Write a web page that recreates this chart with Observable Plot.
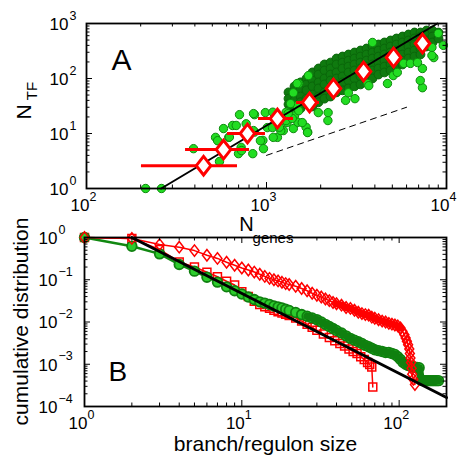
<!DOCTYPE html>
<html><head><meta charset="utf-8">
<script src="https://cdn.jsdelivr.net/npm/d3@7"></script>
<script src="https://cdn.jsdelivr.net/npm/@observablehq/plot@0.6"></script>
<style>
html,body{margin:0;padding:0;background:#fff;}
#chart{width:458px;height:464px;position:relative;}
#chart svg{position:absolute;left:0;overflow:visible;background:transparent;}
</style></head><body><div id="chart"></div>
<script>
// ---------- Panel A data ----------
const aXTicks = [100, 1000, 10000];
const aXExp = ["2", "3", "4"];
const aYTicks = [1, 10, 100, 1000];
const aYExp = ["0", "1", "2", "3"];
const aXMinor = [200,300,400,500,600,700,800,900,2000,3000,4000,5000,6000,7000,8000,9000];
const aYMinor = [2,3,4,5,6,7,8,9,20,30,40,50,60,70,80,90,200,300,400,500,600,700,800,900];

// dense part of the genome cloud [N_genes, N_TF]
const cloudCore = [
[1325,56],[1325,43],[1325,34],[1325,26],
[1431,72],[1431,51],[1431,40],[1431,31],
[1546,85],[1546,66],[1546,47],[1546,37],[1546,28.5],
[1668,100],[1668,78],[1668,61],[1668,43],[1668,34],
[1801,129],[1801,92],[1801,72],[1801,51],[1801,40],[1801,31],
[1945,152],[1945,118],[1945,85],[1945,66],[1945,47],[1945,37],
[2100,180],[2100,140],[2100,100],[2100,78],[2100,56],[2100,43],
[2268,195],[2268,152],[2268,118],[2268,92],[2268,66],[2268,47],
[2449,231],[2449,180],[2449,129],[2449,100],[2449,78],[2449,56],
[2644,251],[2644,195],[2644,152],[2644,109],[2644,85],[2644,61],
[2855,273],[2855,212],[2855,165],[2855,129],[2855,92],[2855,66],
[3083,297],[3083,231],[3083,180],[3083,140],[3083,100],[3083,72],
[3329,323],[3329,251],[3329,195],[3329,152],[3329,109],[3329,78],
[3594,351],[3594,273],[3594,212],[3594,165],[3594,118],[3594,92],
[3881,382],[3881,297],[3881,231],[3881,180],[3881,140],[3881,100],
[4190,415],[4190,323],[4190,251],[4190,195],[4190,152],[4190,118],
[4525,452],[4525,351],[4525,273],[4525,212],[4525,165],[4525,129],
[4886,491],[4886,382],[4886,297],[4886,231],[4886,180],[4886,140],
[5275,534],[5275,415],[5275,323],[5275,251],[5275,195],[5275,165],
[5696,580],[5696,452],[5696,351],[5696,273],[5696,212],[5696,180],
[6150,631],[6150,491],[6150,382],[6150,297],[6150,231],
[6641,686],[6641,534],[6641,415],[6641,323],[6641,251],
[7170,686],[7170,580],[7170,452],[7170,351],[7170,273],
[7742,746],[7742,631],[7742,491],[7742,382],
[8359,746],[8359,580],[8359,452],
[9026,686],[9026,534]
];
// scattered genomes [N_genes, N_TF]
const cloudSparse = [
[213,1],[261,1],[393,5.3],[548,3.1],[521,8.5],[535,7.4],[577,12.3],[617,8.5],[622,8.6],
[708,22],[858,22],[648,14],[679,14],[771,15],[858,10.6],[955,7.5],[699,4.3],[723,5.6],[727,4.9],[839,4.3],
[962,5.3],[847,11.3],[925,7.4],[1010,12.8],[1080,12.8],[1150,8.5],[1240,11.3],[1300,15.8],
[1410,12.3],[1480,32],[1360,35],[1410,55],[847,23],[985,24],[1090,8.5],[1200,11.3],[1180,13],
[1084,24.4],[1286,24.4],[1286,17.2],[1431,21],[1494,16],[1660,13],[1694,10.6],[2193,17.2],
[1690,10.4],[1580,15.8],[1390,18.8],[1320,23],[1510,26],[1510,81],
[2200,24],[1940,24],[2750,40],[1710,113],[3880,452],
[4700,81],[5060,113],[5780,188],[6300,188],[7350,68],[7150,92],[7350,152],
[8500,240],[8300,367],[9000,660],[9600,400],[3100,43],[3640,81],
[1480,81],[6900,195],[3700,74],[5330,129],[8300,262],[2850,55]
];
// binned averages with horizontal spread
const binGenes = [447, 577, 784, 1150, 1734, 2355, 3460, 5080, 7360];
const binTF = [2.6, 5.1, 10, 18.7, 36.6, 65.8, 134, 241, 433];
const binLo = [202, 355, 607, 903, 1468, 2160, 3220, 4780, 6980];
const binHi = [690, 805, 987, 1413, 1969, 2570, 3720, 5400, 7760];
// fitted power law and reference slope
const fitGenes = [260, 8900];
const fitTF = [1, 1000];
const refGenes = [1000, 6000];
const refTF = [4, 30];

// ---------- Panel B data ----------
const bXTicks = [1, 10, 100];
const bXExp = ["0", "1", "2"];
const bYTicks = [1e-4, 1e-3, 1e-2, 1e-1, 1];
const bYExp = ["\u22124", "\u22123", "\u22122", "\u22121", "0"];
const bXMinor = [2,3,4,5,6,7,8,9,20,30,40,50,60,70,80,90,200];
const bYMinor = [2e-4,3e-4,4e-4,5e-4,6e-4,7e-4,8e-4,9e-4,2e-3,3e-3,4e-3,5e-3,6e-3,7e-3,8e-3,9e-3,
  0.02,0.03,0.04,0.05,0.06,0.07,0.08,0.09,0.2,0.3,0.4,0.5,0.6,0.7,0.8,0.9];

const branchCD = [
[1,1],[2,0.62],[3,0.41],[4,0.23],[5,0.16],[6,0.115],[7,0.088],[8,0.068],[9,0.055],[10,0.046],
[11,0.039],[12,0.034],[13,0.030],[14,0.028],[15,0.026],[16,0.024],[17,0.0228],[18,0.0215],[19,0.020],
[20,0.0188],[22,0.0168],[24,0.0150],[26,0.0137],[28,0.0125],[30,0.0114],[32,0.0100],[34,0.0088],
[36,0.0078],[38,0.0070],[40,0.0063],[43,0.0055],[46,0.0047],[49,0.0041],[52,0.0037],[55,0.0034],
[58,0.0031],[61,0.0028],[64,0.0026],[67,0.0024],[70,0.0022],[74,0.0021],[78,0.0020],[82,0.0019],
[86,0.0019],[90,0.0018],[94,0.0017],[98,0.0015],[102,0.0013],[106,0.0011],[110,0.0010],[114,0.00094],
[118,0.00090],[122,0.00087],[126,0.00085],[130,0.00084],[134,0.00083],[138,0.00042],[142,0.00041],
[146,0.00041],[150,0.00041],[154,0.00041],[158,0.00041],[162,0.00041],[166,0.00041],[170,0.00041],
[174,0.00041],[178,0.00041]
];
const regulonCD = [
[1,1],[2,0.95],[3,0.68],[4,0.59],[5,0.49],[6,0.38],[7,0.32],[8,0.26],[9,0.22],[10,0.19],
[11,0.17],[12,0.152],[13,0.135],[14,0.120],[15,0.108],[16,0.100],[17,0.094],[18,0.087],[19,0.081],
[20,0.077],[22,0.070],[24,0.062],[26,0.055],[28,0.048],[30,0.043],[32,0.039],[34,0.035],[36,0.032],
[38,0.029],[40,0.027],[43,0.025],[46,0.022],[49,0.021],[52,0.019],[55,0.017],[58,0.0158],[61,0.015],
[64,0.0145],[67,0.013],[70,0.0123],[74,0.0113],[78,0.0105],[82,0.0100],[86,0.0093],[90,0.0089],
[94,0.0085],[98,0.0081],[102,0.0072],[105,0.0060],[108,0.0050],[110,0.0042],[112,0.0035],[114,0.0029],
[116,0.0023],[117,0.0018],[118,0.0014],[119,0.0011],[120,0.0008],[121,0.00058],[123,0.00044],[126,0.00033]
];
const shuffledCD = [
[1,1],[2,0.95],[3,0.52],[4,0.265],[5,0.20],[6,0.15],[7,0.118],[8,0.092],[9,0.075],[10,0.052],
[11,0.040],[12,0.031],[13,0.026],[14,0.023],[15,0.021],[16,0.019],[17,0.0175],[18,0.0163],[19,0.0152],
[20,0.0142],[22,0.0125],[24,0.0105],[26,0.0088],[28,0.0075],[30,0.0064],[33,0.0052],[36,0.0043],
[39,0.0036],[42,0.0031],[45,0.0027],[48,0.0023],[51,0.0020],[54,0.0018],[57,0.0015],[60,0.0013],
[63,0.0011],[65,0.00098],[67,0.00086],[68,0.00029]
];
const lawX = [2, 200];
const lawY = [1, 0.000163];

// ---------- helpers ----------
const FONT = "Liberation Sans, Arial, Helvetica, sans-serif";
const diamond = {draw(ctx, size) {
  const h = Math.sqrt(size) * 0.62, w = h * 0.78;
  ctx.moveTo(0, -h); ctx.lineTo(w, 0); ctx.lineTo(0, h); ctx.lineTo(-w, 0); ctx.closePath();
}};
function boxTicks(xMaj, xMin, yMaj, yMin, pw, ph) {
  const o = {stroke: "black", strokeWidth: 1};
  const m = [];
  for (const [arr, len] of [[xMaj, 6], [xMin, 3.5]]) {
    m.push(Plot.tickX(arr, {x: d => d, insetTop: ph - len, ...o}));
    m.push(Plot.tickX(arr, {x: d => d, insetBottom: ph - len, ...o}));
  }
  for (const [arr, len] of [[yMaj, 6], [yMin, 3.5]]) {
    m.push(Plot.tickY(arr, {y: d => d, insetRight: pw - len, ...o}));
    m.push(Plot.tickY(arr, {y: d => d, insetLeft: pw - len, ...o}));
  }
  return m;
}
function logLabels(xT, xE, yT, yE, yDx) {
  return [
    Plot.text(xT, {x: d => d, frameAnchor: "bottom", text: () => "10", textAnchor: "end", dx: 3, dy: 22, fontSize: 17, fill: "black"}),
    Plot.text(xT, {x: d => d, frameAnchor: "bottom", text: (d, i) => xE[i], textAnchor: "start", dx: 3, dy: 12, fontSize: 12.5, fill: "black"}),
    Plot.text(yT, {y: d => d, frameAnchor: "left", text: () => "10", textAnchor: "end", dx: yDx, dy: 1, fontSize: 17, fill: "black"}),
    Plot.text(yT, {y: d => d, frameAnchor: "left", text: (d, i) => yE[i], textAnchor: "start", dx: yDx + 1, dy: -8, fontSize: 12.5, fill: "black"})
  ];
}
function vLabel(svg, parts) {
  // rotated (bottom-to-top) axis title, built as real SVG text
  for (const p of parts) {
    d3.select(svg).append("text")
      .attr("transform", `translate(${p.cx},${p.cy}) rotate(-90)`)
      .attr("text-anchor", "middle").attr("dy", "0.36em")
      .attr("font-family", FONT).attr("font-size", p.size).attr("fill", "black")
      .text(p.text);
  }
}

const bins = binGenes.map((g, i) => ({g, tf: binTF[i], lo: binLo[i], hi: binHi[i]}));
const fitLine = fitGenes.map((g, i) => ({g, tf: fitTF[i]}));
const refLine = refGenes.map((g, i) => ({g, tf: refTF[i]}));
const lawLine = lawX.map((x, i) => ({x, y: lawY[i]}));

// ---------- Panel A ----------
const plotA = Plot.plot({
  width: 458, height: 232,
  marginLeft: 86, marginRight: 12, marginTop: 23, marginBottom: 44,
  style: {fontFamily: FONT, background: "transparent", overflow: "visible"},
  x: {type: "log", domain: [100, 10000], axis: null},
  y: {type: "log", domain: [1, 1000], axis: null},
  marks: [
    Plot.dot(cloudCore, {x: d => d[0], y: d => d[1], r: 4.4, fill: "#0f7a0f", stroke: "#0a660a", strokeWidth: 1}),
    Plot.dot(cloudSparse, {x: d => d[0], y: d => d[1], r: 4.2, fill: "#22dd22", stroke: "#0d8a0d", strokeWidth: 1}),
    Plot.line(fitLine, {x: "g", y: "tf", stroke: "black", strokeWidth: 2}),
    Plot.line(refLine, {x: "g", y: "tf", stroke: "black", strokeWidth: 1, strokeDasharray: "6,5"}),
    Plot.ruleY(bins, {y: "tf", x1: "lo", x2: "hi", stroke: "#ff0000", strokeWidth: 3}),
    Plot.dot(bins, {x: "g", y: "tf", symbol: diamond, r: 8.5, fill: "white", stroke: "#ff0000", strokeWidth: 3}),
    Plot.frame({stroke: "black", strokeWidth: 1.8}),
    ...boxTicks(aXTicks, aXMinor, aYTicks, aYMinor, 360, 165),
    ...logLabels(aXTicks, aXExp, aYTicks, aYExp, -18),
    Plot.text(["A"], {frameAnchor: "top-left", dx: 25, dy: 25, fontSize: 30, fill: "black"}),
    Plot.text(["N"], {frameAnchor: "bottom", dx: -20, dy: 42, fontSize: 20, fill: "black"}),
    Plot.text(["genes"], {frameAnchor: "bottom", dx: 6.5, dy: 54.5, fontSize: 15, fill: "black"})
  ]
});
vLabel(plotA, [{text: "N", cx: 23, cy: 112, size: 21}, {text: "TF", cx: 32, cy: 91, size: 15}]);

// ---------- Panel B ----------
const plotB = Plot.plot({
  width: 458, height: 232,
  marginLeft: 84, marginRight: 12, marginTop: 5, marginBottom: 58,
  style: {fontFamily: FONT, background: "transparent", overflow: "visible"},
  x: {type: "log", domain: [1, 200], axis: null},
  y: {type: "log", domain: [1e-4, 1], axis: null},
  marks: [
    Plot.line(shuffledCD, {x: d => d[0], y: d => d[1], stroke: "#ff0000", strokeWidth: 1.5}),
    Plot.dot(shuffledCD, {x: d => d[0], y: d => d[1], symbol: "square", r: 4.5, fill: "none", stroke: "#ff0000", strokeWidth: 1.5}),
    Plot.line(branchCD, {x: d => d[0], y: d => d[1], stroke: "#118811", strokeWidth: 2.5}),
    Plot.dot(branchCD, {x: d => d[0], y: d => d[1], r: 4.8, fill: "#2ccc2c", stroke: "#0f800f", strokeWidth: 1.8}),
    // where markers pile up densely their outlines merge into a solid band
    Plot.line(branchCD.filter(d => d[0] >= 26), {x: d => d[0], y: d => d[1], stroke: "#0f800f", strokeWidth: 7.5}),
    Plot.line(regulonCD, {x: d => d[0], y: d => d[1], stroke: "#ff0000", strokeWidth: 1.5}),
    Plot.dot(regulonCD, {x: d => d[0], y: d => d[1], symbol: diamond, r: 5.2, fill: "none", stroke: "#ff0000", strokeWidth: 1.5}),
    Plot.line(regulonCD.filter(d => d[0] >= 40 && d[0] <= 104), {x: d => d[0], y: d => d[1], stroke: "#ff0000", strokeWidth: 7}),
    Plot.line(lawLine, {x: "x", y: "y", stroke: "black", strokeWidth: 3}),
    Plot.frame({stroke: "black", strokeWidth: 1.8}),
    ...boxTicks(bXTicks, bXMinor, bYTicks, bYMinor, 362, 169),
    ...logLabels(bXTicks, bXExp, bYTicks, bYExp, -27),
    Plot.text(["B"], {frameAnchor: "bottom-left", dx: 24, dy: -26, fontSize: 28, fill: "black"}),
    Plot.text(["branch/regulon size"], {frameAnchor: "bottom", dy: 44, fontSize: 21, fill: "black"})
  ]
});
vLabel(plotB, [{text: "cumulative distribution", cx: 20, cy: 89.5, size: 21}]);

const chart = document.getElementById("chart");
plotA.style.top = "0px";
plotB.style.top = "232px";
chart.appendChild(plotA);
chart.appendChild(plotB);
</script></body></html>
